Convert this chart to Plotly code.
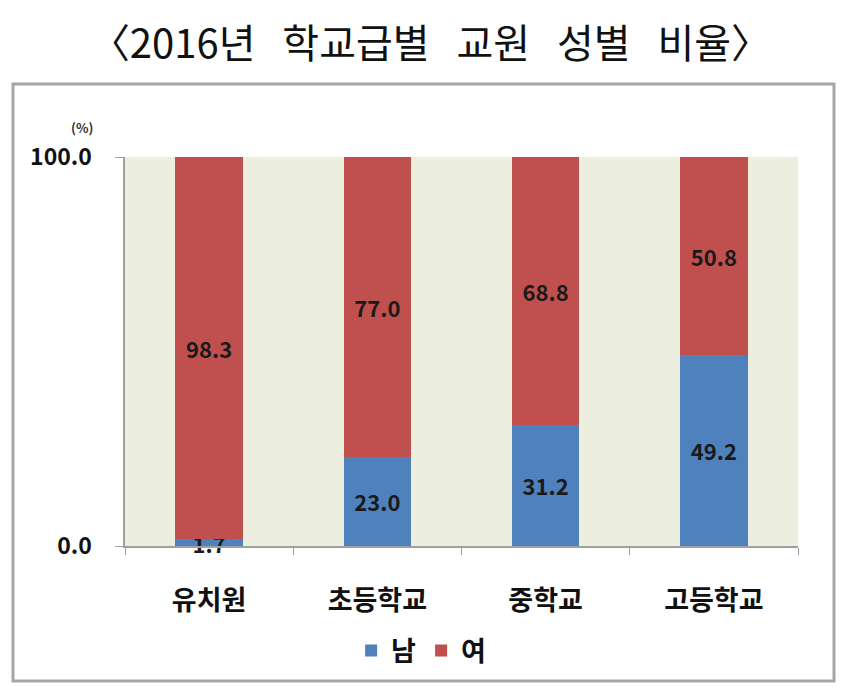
import plotly.graph_objects as go

categories = ["유치원", "초등학교", "중학교", "고등학교"]
male = [1.7, 23.0, 31.2, 49.2]
female = [98.3, 77.0, 68.8, 50.8]
y_ticks = [0, 100]
y_tick_labels = ["0.0", "100.0"]

font_kr = "Noto Sans CJK KR"
label_font = dict(size=22, color="#1a1a1a", family=font_kr, weight="bold")
nb = "\u00a0"
# invisible padding so the y labels sit away from the tick marks
pad = "<span style='color:rgba(0,0,0,0)'>0" + nb + "</span>"

fig = go.Figure()
fig.add_trace(go.Bar(
    x=categories, y=male, name="남",
    marker=dict(color="#4F81BD", line=dict(width=0)),
    text=["%.1f" % v for v in male],
    textposition="inside", insidetextanchor="middle", textangle=0,
    textfont=label_font,
    cliponaxis=False,
))
fig.add_trace(go.Bar(
    x=categories, y=female, name="여",
    marker=dict(color="#C0504D", line=dict(width=0)),
    text=["%.1f" % v for v in female],
    textposition="inside", insidetextanchor="middle", textangle=0,
    textfont=label_font,
))

# page body has an 8px margin, so the figure is laid out 8px up/left
fig.update_layout(
    barmode="stack",
    bargap=0.6,
    width=850, height=688,
    margin=dict(l=117, r=60, t=149, b=150, autoexpand=False),
    paper_bgcolor="white",
    plot_bgcolor="#ECEFE0",
    font=dict(family=font_kr, color="#1a1a1a"),
    uniformtext=dict(minsize=22, mode="show"),
    title=dict(text="〈2016년" + nb * 3 + "학교급별" + nb * 3 + "교원" + nb * 3
                    + "성별" + nb * 3 + "비율〉",
               x=0.497, xanchor="center", y=0.948, yanchor="middle",
               font=dict(size=40, family=font_kr, color="#111111")),
    legend=dict(orientation="h", x=0.44, xanchor="center",
                y=-0.27, yanchor="middle",
                font=dict(size=27, family=font_kr, color="#111111", weight="bold"),
                itemwidth=30, traceorder="normal"),
    showlegend=True,
)

fig.update_xaxes(
    showline=True, linecolor="#A0A0A0", linewidth=1.5,
    ticks="outside", tickson="boundaries", ticklen=7, tickcolor="#A0A0A0",
    tickfont=dict(size=27, family=font_kr, color="#111111", weight="bold"),
    ticklabelstandoff=30, automargin=False,
    showgrid=False,
)
fig.update_yaxes(
    range=[0, 100],
    tickvals=y_ticks, ticktext=[t + pad for t in y_tick_labels],
    showline=True, linecolor="#A0A0A0", linewidth=1.5,
    ticks="outside", ticklen=8, tickcolor="#A0A0A0",
    tickfont=dict(size=23, family=font_kr, color="#111111", weight="bold"),
    automargin=False,
    showgrid=False, zeroline=False,
)

fig.add_annotation(text="(%)", xref="paper", yref="paper",
                   x=-0.083, y=1.105, showarrow=False,
                   font=dict(size=13, family=font_kr, color="#333333", weight="bold"))

# outer frame around the chart area
fig.add_shape(type="rect", xref="paper", yref="paper",
              x0=-0.1664, x1=1.0535, y0=-0.347, y1=1.1877,
              line=dict(color="#A6A6A6", width=3), layer="below")

fig.write_html("out.html")
